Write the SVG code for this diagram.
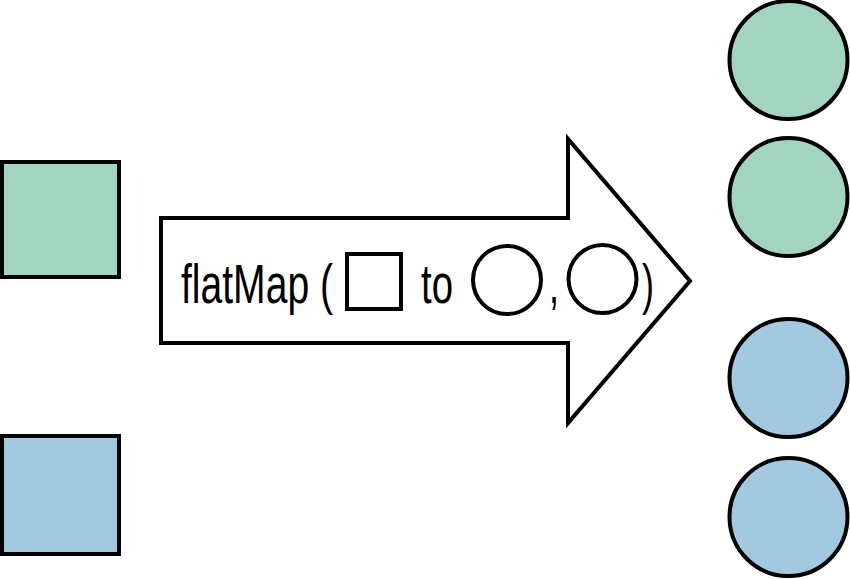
<svg xmlns="http://www.w3.org/2000/svg" width="850" height="579" viewBox="0 0 850 579">
  <style>
    .shape { stroke: #000; stroke-width: 4; }
    .green { fill: #a3d4c0; }
    .blue { fill: #a3c9e0; }
    .outline { fill: #fff; stroke: #000; stroke-width: 4; stroke-linejoin: miter; }
    .glyph { fill: none; stroke: #000; stroke-width: 4; }
    .label { font-family: "Liberation Sans", Arial, sans-serif; font-size: 55px; fill: #000; }
  </style>
  <rect width="850" height="579" fill="#fff"/>
  <g id="input-square-green">
    <rect class="shape green" x="2" y="162" width="117" height="115"/>
  </g>
  <g id="input-square-blue">
    <rect class="shape blue" x="2" y="436" width="117" height="118"/>
  </g>
  <g id="connectors">
    <g id="flatmap-arrow">
      <polygon class="outline" points="161,218 568,218 568,139 690,281 568,423 568,343 161,343"/>
      <text class="label" x="181" y="303" textLength="152" lengthAdjust="spacingAndGlyphs">flatMap (</text>
      <rect class="glyph" x="347" y="254" width="54" height="55"/>
      <text class="label" x="421" y="303" textLength="32" lengthAdjust="spacingAndGlyphs">to</text>
      <circle class="glyph" cx="507" cy="280" r="34"/>
      <text class="label" x="549" y="303" textLength="10" lengthAdjust="spacingAndGlyphs">,</text>
      <circle class="glyph" cx="602.5" cy="279" r="34"/>
      <text class="label" x="642" y="303" textLength="12" lengthAdjust="spacingAndGlyphs">)</text>
    </g>
  </g>
  <g id="output-circle-green-1">
    <circle class="shape green" cx="788.5" cy="60" r="59"/>
  </g>
  <g id="output-circle-green-2">
    <circle class="shape green" cx="788.5" cy="197" r="59"/>
  </g>
  <g id="output-circle-blue-1">
    <circle class="shape blue" cx="788.5" cy="378" r="59"/>
  </g>
  <g id="output-circle-blue-2">
    <circle class="shape blue" cx="788.5" cy="517" r="59"/>
  </g>
</svg>
